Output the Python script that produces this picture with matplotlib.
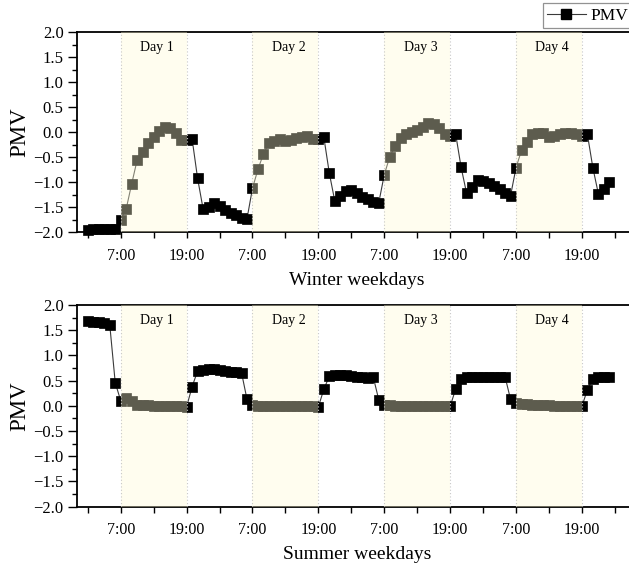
import numpy as np
import matplotlib
matplotlib.use("Agg")
import matplotlib.pyplot as plt
from matplotlib.lines import Line2D
from matplotlib.ticker import MultipleLocator

plt.rcParams['font.family'] = ['Liberation Serif', 'DejaVu Serif']

# ---------------- data ----------------
hours = list(range(1, 97))  # hourly samples, hour 7 = 7:00 of Day 1

winter_pmv = [
    # hours 1-24
    -1.95, -1.93, -1.93, -1.93, -1.94, -1.93, -1.75, -1.53, -1.03, -0.55, -0.39, -0.22,
    -0.09, 0.03, 0.11, 0.09, -0.02, -0.15, -0.15, -0.13, -0.92, -1.53, -1.49, -1.42,
    # hours 25-48
    -1.48, -1.55, -1.61, -1.66, -1.71, -1.73, -1.12, -0.74, -0.43, -0.22, -0.17, -0.14,
    -0.17, -0.15, -0.12, -0.09, -0.07, -0.14, -0.14, -0.10, -0.82, -1.38, -1.27, -1.18,
    # hours 49-72
    -1.16, -1.22, -1.29, -1.34, -1.39, -1.41, -0.85, -0.49, -0.27, -0.12, -0.04, 0.00,
    0.05, 0.11, 0.18, 0.17, 0.08, -0.04, -0.07, -0.03, -0.70, -1.22, -1.10, -0.96,
    # hours 73-96
    -0.98, -1.02, -1.08, -1.14, -1.21, -1.27, -0.71, -0.36, -0.19, -0.04, -0.01, -0.02,
    -0.10, -0.07, -0.03, -0.01, -0.01, -0.04, -0.08, -0.04, -0.71, -1.23, -1.13, -1.00,
]

summer_pmv = [
    # hours 1-24
    1.68, 1.67, 1.66, 1.64, 1.61, 0.46, 0.10, 0.15, 0.09, 0.02, 0.01, 0.01,
    0.00, 0.00, 0.00, 0.00, -0.01, -0.01, -0.02, 0.38, 0.69, 0.71, 0.73, 0.73,
    # hours 25-48
    0.71, 0.69, 0.68, 0.67, 0.66, 0.13, 0.01, 0.00, 0.00, 0.00, 0.00, 0.00,
    0.00, -0.01, -0.01, -0.01, -0.01, -0.01, -0.02, 0.33, 0.59, 0.62, 0.62, 0.61,
    # hours 49-72
    0.59, 0.58, 0.57, 0.56, 0.57, 0.12, 0.01, 0.01, 0.00, 0.00, 0.00, 0.00,
    0.00, 0.00, 0.00, 0.00, -0.01, -0.01, -0.01, 0.33, 0.54, 0.57, 0.58, 0.58,
    # hours 73-96
    0.58, 0.58, 0.58, 0.58, 0.58, 0.13, 0.05, 0.04, 0.03, 0.02, 0.01, 0.01,
    0.01, 0.00, 0.00, 0.00, 0.00, 0.00, -0.01, 0.32, 0.54, 0.57, 0.58, 0.57,
]

day_labels = ['Day 1', 'Day 2', 'Day 3', 'Day 4']
occ_start = [7, 31, 55, 79]
occ_end = [19, 43, 67, 91]
tick_hours = [1, 7, 13, 19, 25, 31, 37, 43, 49, 55, 61, 67, 73, 79, 85, 91, 97]
tick_labels = ['', '7:00', '', '19:00', '', '7:00', '', '19:00', '',
               '7:00', '', '19:00', '', '7:00', '', '19:00', '']
xlabels = ['Winter weekdays', 'Summer weekdays']

# ---------------- figure ----------------
W, H = 629, 567
fig = plt.figure(figsize=(W / 100, H / 100), dpi=100)

def frac_rect(left_px, top_px, right_px, bottom_px):
    return [left_px / W, 1 - bottom_px / H, (right_px - left_px) / W, (bottom_px - top_px) / H]

ax1 = fig.add_axes(frac_rect(76.8, 32.3, 636.8, 232.3))
ax2 = fig.add_axes(frac_rect(76.8, 305.0, 636.8, 506.7))

overlay_color = (1.0, 0.985, 0.84)

for ax, vals, xl in [(ax1, winter_pmv, xlabels[0]), (ax2, summer_pmv, xlabels[1])]:
    ax.plot(hours, vals, color='#3a3a3a', lw=0.8, marker='s', ms=6.6,
            mfc='black', mec='black', mew=0.5, zorder=2, clip_on=False)
    for s, e, lab in zip(occ_start, occ_end, day_labels):
        ax.axvspan(s, e, color=overlay_color, alpha=0.37, lw=0, zorder=3)
        ax.axvline(s, color='#c8c8c8', ls=(0, (1, 2)), lw=0.8, zorder=4)
        ax.axvline(e, color='#c8c8c8', ls=(0, (1, 2)), lw=0.8, zorder=4)
        ax.text((s + e) / 2 + 0.6, 1.70, lab, ha='center', va='center',
                fontsize=10, zorder=5)
    ax.set_xlim(-1, 101)
    ax.set_ylim(-2.0, 2.0)
    ax.yaxis.set_major_locator(MultipleLocator(0.5))
    ax.yaxis.set_minor_locator(MultipleLocator(0.25))
    ax.set_yticklabels([f'{v:.1f}'.replace('-', '\u2212') for v in ax.get_yticks()])
    ax.set_xticks(tick_hours)
    ax.set_xticklabels(tick_labels)
    ax.tick_params(axis='y', which='major', direction='out', length=6.5, width=1.0,
                   labelsize=12, pad=3)
    ax.tick_params(axis='y', which='minor', direction='out', length=3.4, width=1.0)
    ax.tick_params(axis='x', which='major', direction='out', length=4.3, width=1.0,
                   labelsize=11.5, pad=7)
    for sp in ['left', 'bottom', 'top']:
        ax.spines[sp].set_linewidth(1.3)
    ax.spines['right'].set_visible(False)
    ax.set_ylabel('PMV', fontsize=16.5, labelpad=2)
    ax.set_xlabel(xl, fontsize=14, labelpad=5.5)

handle = Line2D([], [], color='#3a3a3a', lw=0.8, marker='s', ms=6.6, mfc='black', mec='black')
leg = fig.legend([handle], ['PMV'], loc='upper left',
                 bbox_to_anchor=(543 / W, 1 - 3.3 / H), frameon=True, fancybox=False,
                 edgecolor='#777777', borderaxespad=0, borderpad=0.25,
                 handlelength=2.2, handletextpad=0.3, fontsize=12.5)
leg.get_frame().set_linewidth(0.9)

fig.savefig('out.png', dpi=100)
